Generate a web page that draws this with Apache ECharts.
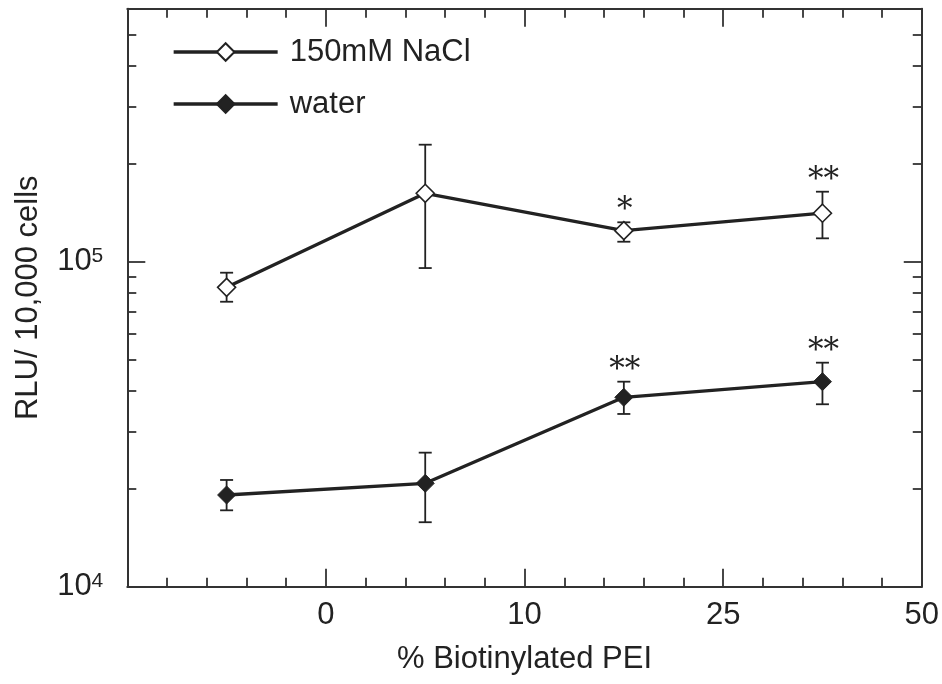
<!DOCTYPE html>
<html><head><meta charset="utf-8">
<script src="https://cdn.jsdelivr.net/npm/echarts@6/dist/echarts.min.js"></script>
<style>html,body{margin:0;padding:0;background:#fff}#c{width:942px;height:684px}</style>
</head><body><div id="c"></div>
<script>
// ---- data ----
const xPositions = [0.5, 1.5, 2.5, 3.5];
const xTickLabels = ['', '0', '10', '25', '50'];
const naclMean = [83400, 162400, 124600, 141000];
const naclLow = [75300, 95600, 115200, 118000];
const naclHigh = [92500, 229100, 132200, 164200];
const waterMean = [19150, 20800, 38250, 42740];
const waterLow = [17180, 15790, 34000, 36420];
const waterHigh = [21300, 25850, 42740, 48900];
const naclNotes = ['', '', '*', '**'];
const waterNotes = ['', '', '**', '**'];
const yMinorTicks = [2e4, 3e4, 4e4, 5e4, 6e4, 7e4, 8e4, 9e4, 2e5, 3e5, 4e5, 5e5];
const seriesNames = ['150mM NaCl', 'water'];

const INK = '#222';
const AX = '#333';
const SANS = '"Liberation Sans", Arial, sans-serif';
const FS = 31;

function pairs(ys) { return xPositions.map((x, i) => [x, ys[i]]); }
function bars(lo, hi) { return xPositions.map((x, i) => [x, lo[i], hi[i]]); }

function errRender(notes) {
  return function (params, api) {
    const x = api.value(0), lo = api.value(1), hi = api.value(2);
    const pLo = api.coord([x, lo]), pHi = api.coord([x, hi]);
    const hw = 6.5;
    const st = { stroke: INK, lineWidth: 1.8, fill: null };
    const children = [
      { type: 'line', shape: { x1: pHi[0], y1: pHi[1], x2: pLo[0], y2: pLo[1] }, style: st },
      { type: 'line', shape: { x1: pHi[0] - hw, y1: pHi[1], x2: pHi[0] + hw, y2: pHi[1] }, style: st },
      { type: 'line', shape: { x1: pLo[0] - hw, y1: pLo[1], x2: pLo[0] + hw, y2: pLo[1] }, style: st }
    ];
    const note = notes[params.dataIndex];
    if (note) {
      children.push({ type: 'text', x: pHi[0] + 1, y: pHi[1] - 11,
        style: { text: note, fill: INK, font: '31px "DejaVu Serif", serif', align: 'center', verticalAlign: 'middle' } });
    }
    return { type: 'group', children };
  };
}

function logLabel(v) {
  const e = Math.log10(v);
  if (Math.abs(e - Math.round(e)) > 1e-6) return '';
  return '{b|10}{s|' + Math.round(e) + '}';
}

const tickLine = { color: AX, width: 1.8 };
const xBase = {
  type: 'value', min: 0, max: 4, interval: 1,
  axisLine: { show: true, lineStyle: { color: AX, width: 2 } },
  axisTick: { show: true, inside: true, length: 18, lineStyle: tickLine },
  minorTick: { show: true, splitNumber: 5, length: 9, lineStyle: tickLine },
  splitLine: { show: false }, minorSplitLine: { show: false }
};
const yBase = {
  type: 'log', logBase: 10, min: 1e4, max: 6e5,
  splitLine: { show: false }, minorSplitLine: { show: false }
};

const option = {
  animation: false,
  backgroundColor: '#fff',
  grid: { left: 127.3, right: 19.3, top: 8.8, bottom: 97.3, containLabel: false },
  legend: {
    orient: 'vertical', left: 172, top: 36, padding: 0,
    itemWidth: 104, itemHeight: 22, itemGap: 20,
    data: seriesNames,
    lineStyle: { width: 3.3 },
    textStyle: { fontSize: FS, color: INK, fontFamily: SANS, lineHeight: 32, padding: [0, 0, 0, 7] }
  },
  xAxis: [
    Object.assign({}, xBase, {
      position: 'bottom',
      axisLabel: { show: true, formatter: v => xTickLabels[Math.round(v)] || '', fontSize: FS, color: INK, fontFamily: SANS, margin: 13 },
      name: '% Biotinylated PEI', nameLocation: 'middle', nameGap: 57,
      nameTextStyle: { fontSize: FS, color: INK, fontFamily: SANS }
    }),
    Object.assign({}, xBase, { position: 'top', axisLabel: { show: false } })
  ],
  yAxis: [
    Object.assign({}, yBase, {
      position: 'left',
      axisLine: { show: true, lineStyle: { color: AX, width: 2 } },
      axisTick: { show: true, inside: true, length: 18, lineStyle: tickLine },
      axisLabel: {
        show: true, formatter: logLabel, margin: 24, color: INK,
        rich: {
          b: { fontSize: FS, fontFamily: SANS, color: INK, lineHeight: 32 },
          s: { fontSize: 21, fontFamily: SANS, color: INK, verticalAlign: 'top', lineHeight: 32 }
        }
      },
      name: 'RLU/ 10,000 cells', nameLocation: 'middle', nameGap: 83,
      nameTextStyle: { fontSize: FS, color: INK, fontFamily: SANS }
    }),
    Object.assign({}, yBase, {
      position: 'left',
      axisLine: { show: false },
      axisTick: { show: true, inside: true, length: 9, lineStyle: tickLine, customValues: yMinorTicks },
      axisLabel: { show: false }
    }),
    Object.assign({}, yBase, {
      position: 'right',
      axisLine: { show: true, lineStyle: { color: AX, width: 2 } },
      axisTick: { show: true, inside: true, length: 18, lineStyle: tickLine },
      axisLabel: { show: false }
    }),
    Object.assign({}, yBase, {
      position: 'right',
      axisLine: { show: false },
      axisTick: { show: true, inside: true, length: 9, lineStyle: tickLine, customValues: yMinorTicks },
      axisLabel: { show: false }
    })
  ],
  series: [
    {
      type: 'custom', name: 'naclErr', xAxisIndex: 0, yAxisIndex: 0, z: 1,
      renderItem: errRender(naclNotes), encode: { x: 0, y: [1, 2] },
      data: bars(naclLow, naclHigh), silent: true
    },
    {
      type: 'custom', name: 'waterErr', xAxisIndex: 0, yAxisIndex: 0, z: 1,
      renderItem: errRender(waterNotes), encode: { x: 0, y: [1, 2] },
      data: bars(waterLow, waterHigh), silent: true
    },
    {
      type: 'line', name: seriesNames[0], xAxisIndex: 0, yAxisIndex: 0, z: 3,
      data: pairs(naclMean), symbol: 'diamond', symbolSize: 18,
      lineStyle: { color: INK, width: 3.3 },
      itemStyle: { color: '#fff', borderColor: INK, borderWidth: 1.6 }
    },
    {
      type: 'line', name: seriesNames[1], xAxisIndex: 0, yAxisIndex: 0, z: 3,
      data: pairs(waterMean), symbol: 'diamond', symbolSize: 18,
      lineStyle: { color: INK, width: 3.3 },
      itemStyle: { color: INK, borderColor: INK, borderWidth: 1 }
    }
  ]
};

const chart = echarts.init(document.getElementById('c'), null, { renderer: 'canvas' });
chart.setOption(option);
</script>
</body></html>
